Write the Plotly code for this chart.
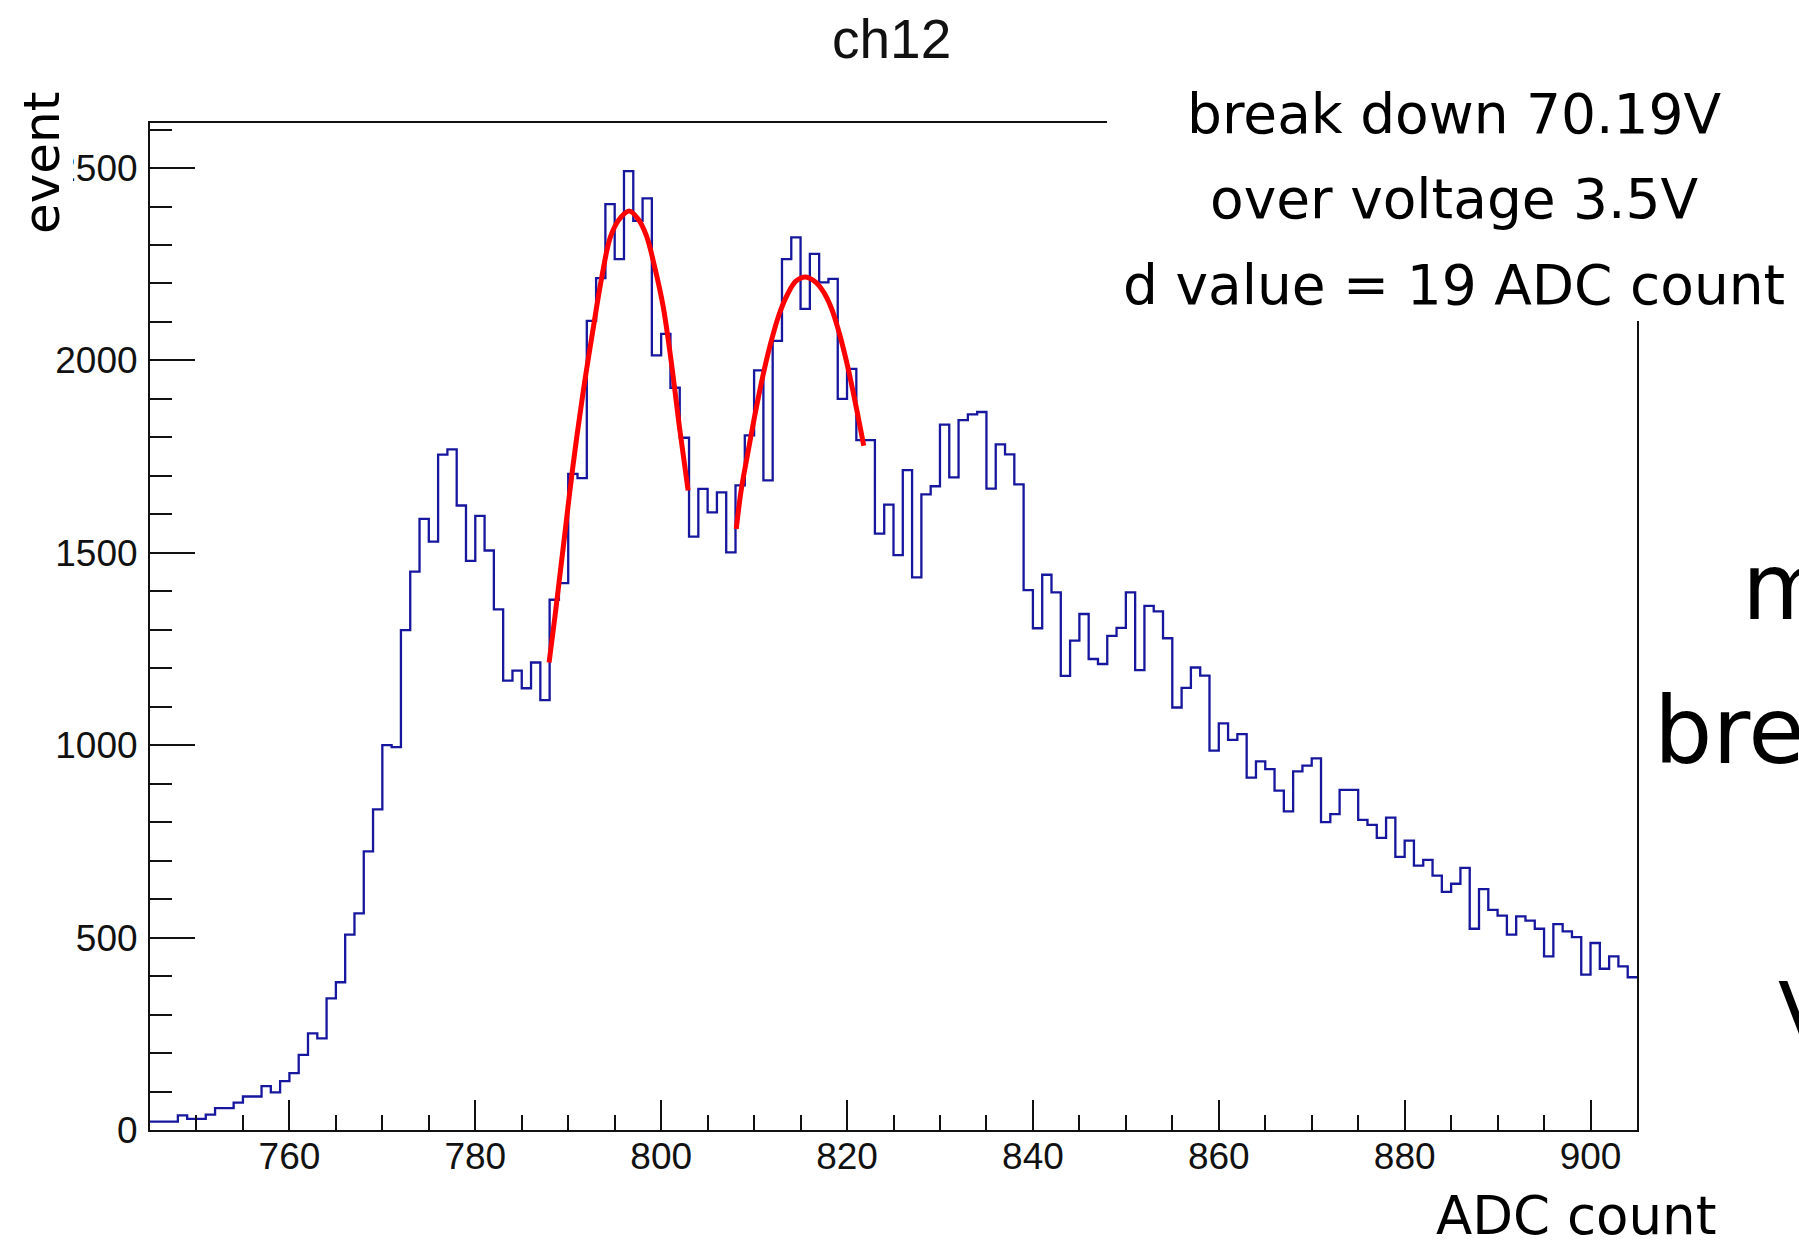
import plotly.graph_objects as go

# ---- data ---------------------------------------------------------------
# ADC spectrum of channel 12, 1-count bins starting at 745
bin_start = 745
counts = [
    22, 22, 22, 38, 29, 29, 40, 57, 57, 71,            # 745-754
    87, 87, 114, 98, 127, 148, 195, 251, 238, 342,     # 755-764
    384, 508, 563, 724, 833, 1000, 995, 1299, 1451, 1588,   # 765-774
    1529, 1755, 1769, 1623, 1479, 1596, 1506, 1353, 1168, 1194,  # 775-784
    1148, 1215, 1117, 1378, 1421, 1705, 1694, 2103, 2214, 2406,  # 785-794
    2263, 2492, 2363, 2421, 2013, 2069, 1929, 1799, 1542, 1666,  # 795-804
    1605, 1657, 1501, 1675, 1805, 1974, 1688, 2051, 2263, 2320,  # 805-814
    2134, 2277, 2203, 2212, 1900, 1978, 1793, 1793, 1550, 1625,  # 815-824
    1494, 1715, 1436, 1652, 1673, 1833, 1696, 1845, 1860, 1866,  # 825-834
    1667, 1782, 1756, 1678, 1403, 1304, 1443, 1397, 1180, 1272,  # 835-844
    1341, 1224, 1211, 1284, 1305, 1397, 1195, 1362, 1348, 1278,  # 845-854
    1098, 1149, 1202, 1181, 986, 1057, 1014, 1029, 916, 958,     # 855-864
    938, 882, 828, 932, 947, 966, 800, 821, 884, 884,            # 865-874
    806, 793, 759, 812, 710, 752, 687, 702, 661, 619,            # 875-884
    640, 681, 523, 626, 572, 557, 508, 555, 544, 523,            # 885-894
    451, 535, 516, 501, 404, 486, 419, 451, 425, 397,            # 895-904
]

# fitted peaks (sampled along the fit curves)
fit1_x = [787.94, 788.55, 789.6, 790.5, 791.6, 792.6, 793.6, 794.6, 795.7,
          796.6, 797.5, 798.4, 799.3, 800.2, 801.1, 802.0, 802.9]
fit1_y = [1215, 1330, 1542, 1724, 1917, 2070, 2215, 2325, 2373,
          2388, 2368, 2325, 2243, 2142, 1994, 1821, 1662]
fit2_x = [808.08, 808.6, 809.3, 810.1, 810.9, 811.8, 812.7, 813.6, 814.5,
          815.5, 816.5, 817.4, 818.3, 819.2, 820.1, 821.0, 821.8]
fit2_y = [1562, 1661, 1756, 1860, 1955, 2046, 2120, 2172, 2206,
          2217, 2206, 2181, 2137, 2068, 1981, 1877, 1778]

title_text = "ch12"
info_lines = ["break down 70.19V", "over voltage 3.5V", "d value = 19 ADC count"]
side_words = ["m", "bre", "V"]
x_title = "ADC count"
y_title = "event"

# ---- geometry -----------------------------------------------------------
W, H = 1799, 1240
PL, PT, PW, PH = 150, 123, 1487, 1007


def px(x):
    return (x - PL) / PW


def py(y):
    return (PT + PH - y) / PH


edges = [bin_start + i for i in range(len(counts) + 1)]
steps = counts + [counts[-1]]

fig = go.Figure()
fig.add_trace(go.Scatter(
    x=edges, y=steps, mode="lines", line_shape="hv",
    line=dict(color="#16169e", width=2.3), hoverinfo="skip", showlegend=False))
for fx, fy in ((fit1_x, fit1_y), (fit2_x, fit2_y)):
    fig.add_trace(go.Scatter(
        x=fx, y=fy, mode="lines", line_shape="spline",
        line=dict(color="#ff0000", width=5), hoverinfo="skip", showlegend=False))

tick_font = dict(family="Liberation Sans, Arial, sans-serif", size=37, color="#111")
text_font = "DejaVu Sans, sans-serif"

fig.update_xaxes(
    range=[745, 905], showgrid=False, zeroline=False,
    showline=True, mirror=True, linecolor="#111", linewidth=2,
    ticks="inside", ticklen=30, tickwidth=2, tickcolor="#111",
    tick0=0, dtick=20, tickfont=tick_font, ticklabelstandoff=-7,
    minor=dict(ticks="inside", ticklen=15, tickwidth=2, tickcolor="#111",
               tick0=0, dtick=5, showgrid=False),
)
fig.update_yaxes(
    range=[0, 2617], showgrid=False, zeroline=False,
    showline=True, mirror=True, linecolor="#111", linewidth=2,
    ticks="inside", ticklen=45, tickwidth=2, tickcolor="#111",
    tick0=0, dtick=500, tickfont=tick_font, ticklabelstandoff=3,
    minor=dict(ticks="inside", ticklen=22, tickwidth=2, tickcolor="#111",
               tick0=0, dtick=100, showgrid=False),
)

# white text panel over the upper-right corner of the frame, and the
# panel edge that hides the front of the top tick label
fig.add_shape(type="rect", xref="paper", yref="paper", layer="above",
              x0=px(1107), x1=px(1805), y0=py(321), y1=py(-5),
              fillcolor="white", line_width=0)
fig.add_shape(type="rect", xref="paper", yref="paper", layer="above",
              x0=px(-5), x1=px(73), y0=py(190), y1=py(146),
              fillcolor="white", line_width=0)

ann = []
ann.append(dict(text=title_text, x=px(891), y=py(39), xref="paper", yref="paper",
                xanchor="center", yanchor="middle", showarrow=False,
                font=dict(family="Liberation Sans, Arial, sans-serif", size=55, color="#111")))
for line, yb in zip(info_lines, (114, 199, 285)):
    ann.append(dict(text=line, x=px(1454), y=py(yb), xref="paper", yref="paper",
                    xanchor="center", yanchor="middle", showarrow=False,
                    font=dict(family=text_font, size=55, color="black")))
ann.append(dict(text=y_title, x=px(42), y=py(163), xref="paper", yref="paper",
                xanchor="center", yanchor="middle", textangle=-90, showarrow=False,
                font=dict(family=text_font, size=50, color="black")))
ann.append(dict(text=x_title, x=px(1718), y=py(1215), xref="paper", yref="paper",
                xanchor="right", yanchor="middle", showarrow=False,
                font=dict(family=text_font, size=53, color="black")))
for word, xl, ym, fs in zip(side_words, (1740, 1652, 1776), (587, 731, 1013), (92, 92, 84)):
    ann.append(dict(text=word, x=px(xl), y=py(ym), xref="paper", yref="paper",
                    xanchor="left", yanchor="middle", showarrow=False,
                    font=dict(family=text_font, size=fs, color="black")))

fig.update_layout(
    width=W, height=H,
    margin=dict(l=PL, r=W - PL - PW, t=PT, b=H - PT - PH, pad=0),
    paper_bgcolor="white", plot_bgcolor="white",
    annotations=ann, showlegend=False,
)

fig.write_html("out.html")
